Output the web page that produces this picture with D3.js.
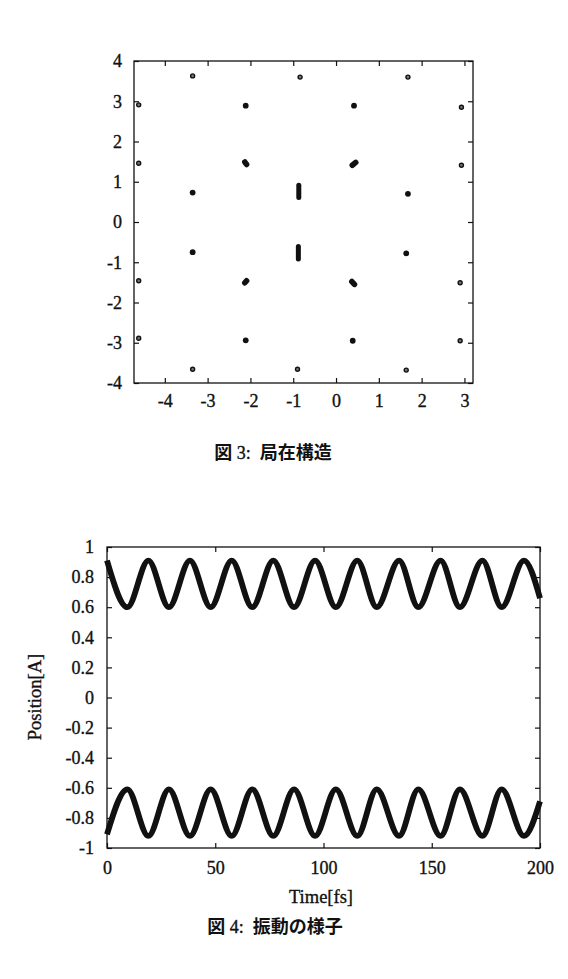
<!DOCTYPE html>
<html>
<head>
<meta charset="utf-8">
<script src="https://cdn.jsdelivr.net/npm/d3@7"></script>
<style>
  body { margin: 0; background: #fff; }
  svg { display: block; }
  .tick text { font-family: "Liberation Serif", "DejaVu Serif", serif; font-size: 18px; fill: #111; stroke: #111; stroke-width: 0.35; }
  .tick line { stroke: #111; stroke-width: 1.2; }
  .caption { font-size: 18px; fill: #111; }
  .cjk { font-family: "Noto Sans CJK JP", sans-serif; font-weight: 700; }
  .serif { font-family: "Liberation Serif", serif; stroke: #111; stroke-width: 0.35; }
  .label { font-family: "Liberation Serif", serif; font-size: 18.5px; fill: #111; stroke: #111; stroke-width: 0.35; }
</style>
</head>
<body>
<svg id="chart" width="568" height="979"></svg>
<script>
// ---- figure 3: localized structure (atom positions) ----
const ringAtoms = [
  [-3.35, 3.63], [-0.84, 3.60], [1.68, 3.60],
  [-4.61, 2.91], [2.93, 2.85],
  [-4.61, 1.46], [2.93, 1.41],
  [-4.61, -1.46], [2.90, -1.51],
  [-4.61, -2.89], [2.90, -2.95],
  [-3.35, -3.66], [-0.90, -3.66], [1.64, -3.68]
];
const dotAtoms = [
  [-2.11, 2.89], [0.42, 2.89],
  [-3.35, 0.73], [1.68, 0.70],
  [-3.35, -0.75], [1.64, -0.78],
  [-2.11, -2.94], [0.39, -2.95]
];
// short trails: x0, y0, x1, y1
const trailAtoms = [
  [-2.13, 1.49, -2.09, 1.43],
  [0.38, 1.41, 0.46, 1.48],
  [-2.13, -1.51, -2.09, -1.46],
  [0.37, -1.48, 0.43, -1.55]
];
// oscillating atoms: x, yMin, yMax
const movingAtoms = [
  [-0.87, 0.61, 0.91],
  [-0.88, -0.61, -0.92]
];
const fig3XTicks = [-4, -3, -2, -1, 0, 1, 2, 3];
const fig3YTicks = [-4, -3, -2, -1, 0, 1, 2, 3, 4];

// ---- figure 4: oscillation (turning points) ----
const timeExtrema = [0, 9.4, 19.1, 28.6, 38.3, 47.9, 57.6, 67.1, 76.8, 86.4, 96.1,
  105.7, 115.6, 124.6, 134.9, 143.8, 154.1, 163.0, 173.4, 182.3, 192.6, 200];
const posUpper = [0.91, 0.60, 0.91, 0.60, 0.91, 0.60, 0.91, 0.60, 0.91, 0.60, 0.91,
  0.60, 0.91, 0.60, 0.91, 0.60, 0.91, 0.60, 0.91, 0.60, 0.91, 0.66];
const posLower = [-0.91, -0.61, -0.92, -0.61, -0.92, -0.61, -0.92, -0.61, -0.92, -0.61, -0.92,
  -0.61, -0.92, -0.61, -0.92, -0.61, -0.92, -0.61, -0.92, -0.61, -0.92, -0.69];
const fig4XTicks = [0, 50, 100, 150, 200];
const fig4YTicks = [-1, -0.8, -0.6, -0.4, -0.2, 0, 0.2, 0.4, 0.6, 0.8, 1];

const svg = d3.select('#chart');
svg.append('rect').attr('width', 568).attr('height', 979).attr('fill', '#fff');

// draws frame + inward ticks on all four sides
function drawFrame(g, x, y, xTicks, yTicks, xFmt, yFmt, padX, padY) {
  const [x0, x1] = x.range();
  const [y0, y1] = y.range();
  const tick = 5;

  g.append('g')
      .attr('transform', `translate(0,${y0})`)
      .call(d3.axisBottom(x).tickValues(xTicks).tickSize(-tick).tickPadding(padX).tickFormat(xFmt))
      .call(a => a.select('.domain').remove());
  g.append('g')
      .attr('transform', `translate(0,${y1})`)
      .call(d3.axisTop(x).tickValues(xTicks).tickSize(-tick).tickFormat(''))
      .call(a => a.select('.domain').remove());
  g.append('g')
      .attr('transform', `translate(${x0},0)`)
      .call(d3.axisLeft(y).tickValues(yTicks).tickSize(-tick).tickPadding(padY).tickFormat(yFmt))
      .call(a => a.select('.domain').remove());
  g.append('g')
      .attr('transform', `translate(${x1},0)`)
      .call(d3.axisRight(y).tickValues(yTicks).tickSize(-tick).tickFormat(''))
      .call(a => a.select('.domain').remove());

  g.append('rect')
      .attr('x', x0).attr('y', y1)
      .attr('width', x1 - x0).attr('height', y0 - y1)
      .attr('fill', 'none').attr('stroke', '#111').attr('stroke-width', 1.3);
}

// ---------- figure 3 ----------
const x3 = d3.scaleLinear().domain([-4.72, 3.2]).range([134, 473]);
const y3 = d3.scaleLinear().domain([-4, 4]).range([383, 61]);
const g3 = svg.append('g');
drawFrame(g3, x3, y3, fig3XTicks, fig3YTicks, d => String(d), d => String(d), 11, 12);

g3.selectAll('.ring')
  .data(ringAtoms)
  .join('circle')
    .attr('class', 'ring')
    .attr('cx', d => x3(d[0]))
    .attr('cy', d => y3(d[1]))
    .attr('r', 2)
    .attr('fill', '#777')
    .attr('stroke', '#111')
    .attr('stroke-width', 1.4);

g3.selectAll('.dot')
  .data(dotAtoms)
  .join('circle')
    .attr('class', 'dot')
    .attr('cx', d => x3(d[0]))
    .attr('cy', d => y3(d[1]))
    .attr('r', 2.9)
    .attr('fill', '#111');

g3.selectAll('.trail')
  .data(trailAtoms)
  .join('line')
    .attr('class', 'trail')
    .attr('x1', d => x3(d[0])).attr('y1', d => y3(d[1]))
    .attr('x2', d => x3(d[2])).attr('y2', d => y3(d[3]))
    .attr('stroke', '#111')
    .attr('stroke-width', 5.6)
    .attr('stroke-linecap', 'round');

g3.selectAll('.moving')
  .data(movingAtoms)
  .join('line')
    .attr('class', 'moving')
    .attr('x1', d => x3(d[0])).attr('y1', d => y3(d[1]))
    .attr('x2', d => x3(d[0])).attr('y2', d => y3(d[2]))
    .attr('stroke', '#111')
    .attr('stroke-width', 5)
    .attr('stroke-linecap', 'round');

const cap3 = svg.append('text').attr('class', 'caption')
    .attr('x', 273).attr('y', 459).attr('text-anchor', 'middle');
cap3.append('tspan').attr('class', 'cjk').text('図');
cap3.append('tspan').attr('class', 'serif').text('\u00a03:\u00a0\u00a0');
cap3.append('tspan').attr('class', 'cjk').text('局在構造');

// ---------- figure 4 ----------
const x4 = d3.scaleLinear().domain([0, 200]).range([107, 540]);
const y4 = d3.scaleLinear().domain([-1, 1]).range([848, 547]);
const g4 = svg.append('g');
drawFrame(g4, x4, y4, fig4XTicks, fig4YTicks, d => String(d), d => String(+d.toFixed(1)), 13, 13);

const line = d3.line()
    .x(d => x4(d[0]))
    .y(d => y4(d[1]))
    .curve(d3.curveMonotoneX);

[posUpper, posLower].forEach(vals => {
  g4.append('path')
      .datum(timeExtrema.map((t, i) => [t, vals[i]]))
      .attr('d', line)
      .attr('fill', 'none')
      .attr('stroke', '#111')
      .attr('stroke-width', 5.8)
      .attr('stroke-linejoin', 'round');
});

svg.append('text')
    .attr('class', 'label')
    .attr('x', 321).attr('y', 903)
    .attr('text-anchor', 'middle')
    .text('Time[fs]');

svg.append('text')
    .attr('class', 'label')
    .attr('transform', 'translate(41,697) rotate(-90)')
    .attr('text-anchor', 'middle')
    .text('Position[A]');

const cap4 = svg.append('text').attr('class', 'caption')
    .attr('x', 275).attr('y', 933).attr('text-anchor', 'middle');
cap4.append('tspan').attr('class', 'cjk').text('図');
cap4.append('tspan').attr('class', 'serif').text('\u00a04:\u00a0\u00a0');
cap4.append('tspan').attr('class', 'cjk').text('振動の様子');
</script>
</body>
</html>
